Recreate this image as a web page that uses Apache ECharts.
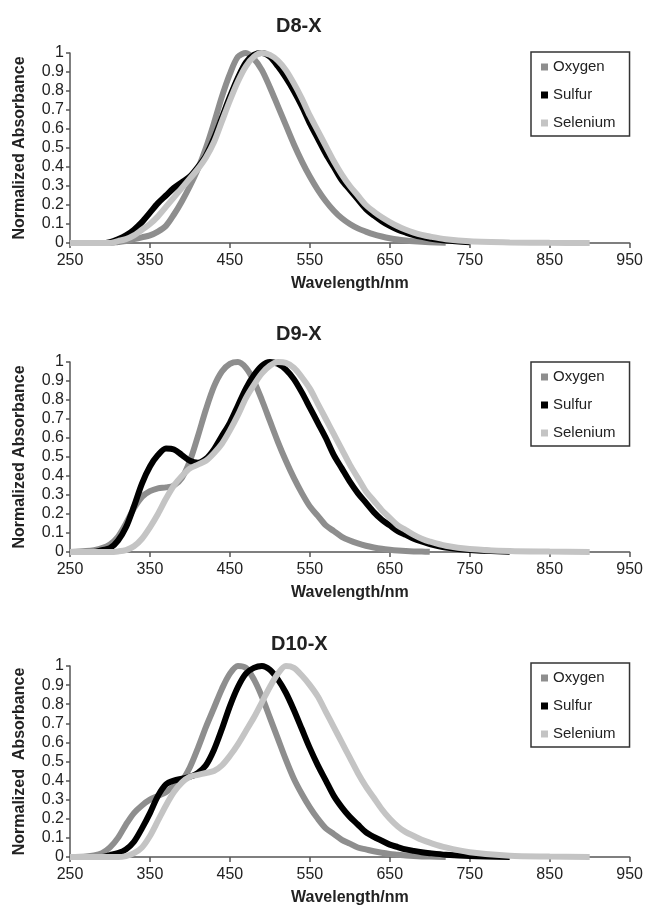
<!DOCTYPE html>
<html>
<head>
<meta charset="UTF-8">
<title>D8-X / D9-X / D10-X</title>
<script src="https://cdn.jsdelivr.net/npm/echarts@6/dist/echarts.min.js"></script>
<style>
  html, body { margin: 0; padding: 0; background: #fff; }
  #main { width: 646px; height: 910px; }
</style>
</head>
<body>
<div id="main"></div>
<script>
// wavelength grid (nm), shared by every series
var wl = [250, 270, 280, 290, 300, 310, 320, 330, 340, 350, 360, 370, 380, 390, 400, 410, 420, 430, 440, 450,
  460, 470, 480, 490, 500, 510, 520, 530, 540, 550, 560, 570, 580, 590, 600, 610, 620, 630, 640, 650,
  660, 670, 680, 690, 700, 720, 750, 800, 850, 900];

var seriesNames = ['Oxygen', 'Sulfur', 'Selenium'];
var panelTitles = ['D8-X', 'D9-X', 'D10-X'];
var xTicks = [250, 350, 450, 550, 650, 750, 850, 950];
var yTicks = [0, 0.1, 0.2, 0.3, 0.4, 0.5, 0.6, 0.7, 0.8, 0.9, 1];

// D8-X
var d8Oxygen = [0, 0, 0, 0, 0, 0.005, 0.01, 0.02, 0.03, 0.04, 0.06, 0.09, 0.15, 0.22, 0.30, 0.39, 0.50, 0.63, 0.77, 0.89,
  0.98, 1.0, 0.97, 0.91, 0.82, 0.72, 0.62, 0.52, 0.43, 0.35, 0.28, 0.22, 0.17, 0.13, 0.10, 0.077, 0.06, 0.045, 0.034, 0.025,
  0.018, 0.013, 0.009, 0.006, 0.004, 0.001, null, null, null, null];
var d8Sulfur = [0, 0, 0, 0, 0.005, 0.02, 0.04, 0.07, 0.11, 0.16, 0.21, 0.25, 0.29, 0.32, 0.35, 0.40, 0.46, 0.55, 0.66, 0.77,
  0.87, 0.95, 0.99, 1.0, 0.98, 0.93, 0.87, 0.80, 0.72, 0.63, 0.55, 0.47, 0.40, 0.33, 0.28, 0.23, 0.18, 0.145, 0.115, 0.09,
  0.07, 0.055, 0.042, 0.032, 0.024, 0.013, 0.004, null, null, null];
var d8Selenium = [0, 0, 0, 0, 0, 0.01, 0.02, 0.04, 0.07, 0.10, 0.14, 0.19, 0.24, 0.29, 0.34, 0.39, 0.45, 0.53, 0.64, 0.75,
  0.85, 0.93, 0.98, 1.0, 0.99, 0.96, 0.91, 0.84, 0.76, 0.67, 0.59, 0.51, 0.43, 0.36, 0.30, 0.25, 0.20, 0.165, 0.135, 0.11,
  0.088, 0.07, 0.055, 0.043, 0.034, 0.02, 0.009, 0.003, 0.001, 0];

// D9-X
var d9Oxygen = [0, 0.005, 0.01, 0.02, 0.04, 0.08, 0.15, 0.23, 0.29, 0.32, 0.335, 0.34, 0.35, 0.39, 0.48, 0.61, 0.75, 0.87, 0.95, 0.99,
  1.0, 0.97, 0.90, 0.80, 0.69, 0.58, 0.48, 0.39, 0.31, 0.24, 0.19, 0.14, 0.11, 0.08, 0.06, 0.045, 0.033, 0.024, 0.017, 0.012,
  0.008, 0.005, 0.003, 0.002, 0.001, null, null, null, null, null];
var d9Sulfur = [0, 0, 0, 0.01, 0.02, 0.06, 0.13, 0.24, 0.36, 0.45, 0.51, 0.545, 0.54, 0.51, 0.48, 0.47, 0.49, 0.54, 0.61, 0.68,
  0.77, 0.86, 0.93, 0.98, 1.0, 0.99, 0.96, 0.91, 0.84, 0.76, 0.68, 0.60, 0.51, 0.44, 0.37, 0.31, 0.26, 0.21, 0.17, 0.14,
  0.11, 0.09, 0.07, 0.055, 0.042, 0.024, 0.01, 0.001, null, null];
var d9Selenium = [0, 0, 0, 0, 0, 0.003, 0.01, 0.03, 0.07, 0.13, 0.20, 0.28, 0.35, 0.40, 0.44, 0.46, 0.48, 0.52, 0.57, 0.64,
  0.72, 0.81, 0.88, 0.94, 0.98, 1.0, 0.995, 0.97, 0.92, 0.86, 0.78, 0.70, 0.62, 0.54, 0.46, 0.39, 0.32, 0.27, 0.22, 0.18,
  0.14, 0.115, 0.09, 0.07, 0.055, 0.033, 0.016, 0.005, 0.002, 0];

// D10-X
var d10Oxygen = [0, 0.003, 0.008, 0.02, 0.05, 0.10, 0.17, 0.23, 0.27, 0.30, 0.32, 0.34, 0.37, 0.40, 0.47, 0.57, 0.68, 0.78, 0.88, 0.96,
  1.0, 0.99, 0.93, 0.84, 0.73, 0.62, 0.51, 0.41, 0.33, 0.26, 0.20, 0.15, 0.12, 0.09, 0.07, 0.05, 0.04, 0.03, 0.022, 0.016,
  0.012, 0.008, 0.005, 0.003, 0.002, 0, null, null, null, null];
var d10Sulfur = [0, 0, 0, 0, 0.01, 0.02, 0.04, 0.08, 0.15, 0.23, 0.32, 0.38, 0.40, 0.41, 0.42, 0.44, 0.48, 0.56, 0.67, 0.79,
  0.89, 0.96, 0.99, 1.0, 0.98, 0.93, 0.86, 0.77, 0.67, 0.57, 0.48, 0.40, 0.32, 0.26, 0.21, 0.17, 0.13, 0.105, 0.085, 0.065,
  0.052, 0.04, 0.032, 0.025, 0.02, 0.012, 0.005, 0, null, null];
var d10Selenium = [0, 0, 0, 0, 0, 0, 0.005, 0.02, 0.05, 0.11, 0.19, 0.27, 0.34, 0.39, 0.42, 0.43, 0.44, 0.45, 0.48, 0.53,
  0.59, 0.66, 0.73, 0.81, 0.89, 0.96, 1.0, 0.99, 0.95, 0.90, 0.84, 0.76, 0.68, 0.60, 0.52, 0.44, 0.37, 0.31, 0.25, 0.20,
  0.16, 0.13, 0.11, 0.09, 0.075, 0.05, 0.025, 0.006, 0.002, 0];

var panels = [
  [d8Oxygen, d8Sulfur, d8Selenium],
  [d9Oxygen, d9Sulfur, d9Selenium],
  [d10Oxygen, d10Sulfur, d10Selenium]
];
var yNames = ['Normalized Absorbance', 'Normalized Absorbance', 'Normalized  Absorbance'];

var lineColors = ['#8e8e8e', '#000000', '#c4c4c4'];
var gridTops = [53, 362, 666];
var gridHeights = [190, 190, 191];
var legendTops = [52, 362, 663];
var titleTops = [16, 324, 634];
var titleLefts = [276, 276, 271];
var font = '"Liberation Sans", Arial, sans-serif';

function pairs(vals) {
  var out = [];
  for (var k = 0; k < wl.length; k++) {
    if (vals[k] !== null) out.push([wl[k], vals[k]]);
  }
  return out;
}

var myChart = echarts.init(document.getElementById('main'), null, { renderer: 'canvas' });

var option = {
  backgroundColor: '#ffffff',
  animation: false,
  title: [],
  legend: [],
  grid: [],
  xAxis: [],
  yAxis: [],
  series: []
};

for (var p = 0; p < 3; p++) {
  option.title.push({
    text: panelTitles[p],
    left: titleLefts[p],
    top: titleTops[p],
    padding: 0,
    textStyle: { fontFamily: font, fontSize: 20, fontWeight: 'bold', color: '#222' }
  });
  option.legend.push({
    orient: 'vertical',
    left: 531,
    top: legendTops[p],
    padding: [7, 14, 5, 10],
    itemGap: 12,
    itemWidth: 7,
    itemHeight: 7,
    icon: 'rect',
    borderColor: '#333',
    borderWidth: 1.5,
    selectedMode: false,
    textStyle: { fontFamily: font, fontSize: 15, color: '#222', lineHeight: 16 },
    data: seriesNames
  });
  option.grid.push({ left: 70, width: 560, top: gridTops[p], height: gridHeights[p] });
  option.xAxis.push({
    type: 'value',
    gridIndex: p,
    min: xTicks[0],
    max: xTicks[xTicks.length - 1],
    interval: 100,
    name: 'Wavelength/nm',
    nameLocation: 'middle',
    nameGap: 33,
    nameTextStyle: { fontFamily: font, fontSize: 16, fontWeight: 'bold', color: '#222' },
    axisLine: { lineStyle: { color: '#555', width: 1.5 } },
    axisTick: { length: 5, lineStyle: { color: '#555', width: 1.5 } },
    axisLabel: { margin: 10, fontFamily: font, fontSize: 16, color: '#222' },
    splitLine: { show: false }
  });
  option.yAxis.push({
    type: 'value',
    gridIndex: p,
    min: yTicks[0],
    max: yTicks[yTicks.length - 1],
    interval: 0.1,
    name: yNames[p],
    nameLocation: 'middle',
    nameGap: 42,
    nameTextStyle: { fontFamily: font, fontSize: 16, fontWeight: 'bold', color: '#222' },
    axisLine: { show: true, lineStyle: { color: '#555', width: 1.5 } },
    axisTick: { show: true, length: 4, lineStyle: { color: '#555', width: 1.5 } },
    axisLabel: { margin: 6, fontFamily: font, fontSize: 16, color: '#222' },
    splitLine: { show: false }
  });
  for (var s = 0; s < 3; s++) {
    option.series.push({
      name: seriesNames[s],
      type: 'line',
      xAxisIndex: p,
      yAxisIndex: p,
      data: pairs(panels[p][s]),
      smooth: 0.3,
      showSymbol: false,
      z: 2 + s,
      itemStyle: { color: lineColors[s] },
      lineStyle: { color: lineColors[s], width: 6 }
    });
  }
}

myChart.setOption(option);
</script>
</body>
</html>
